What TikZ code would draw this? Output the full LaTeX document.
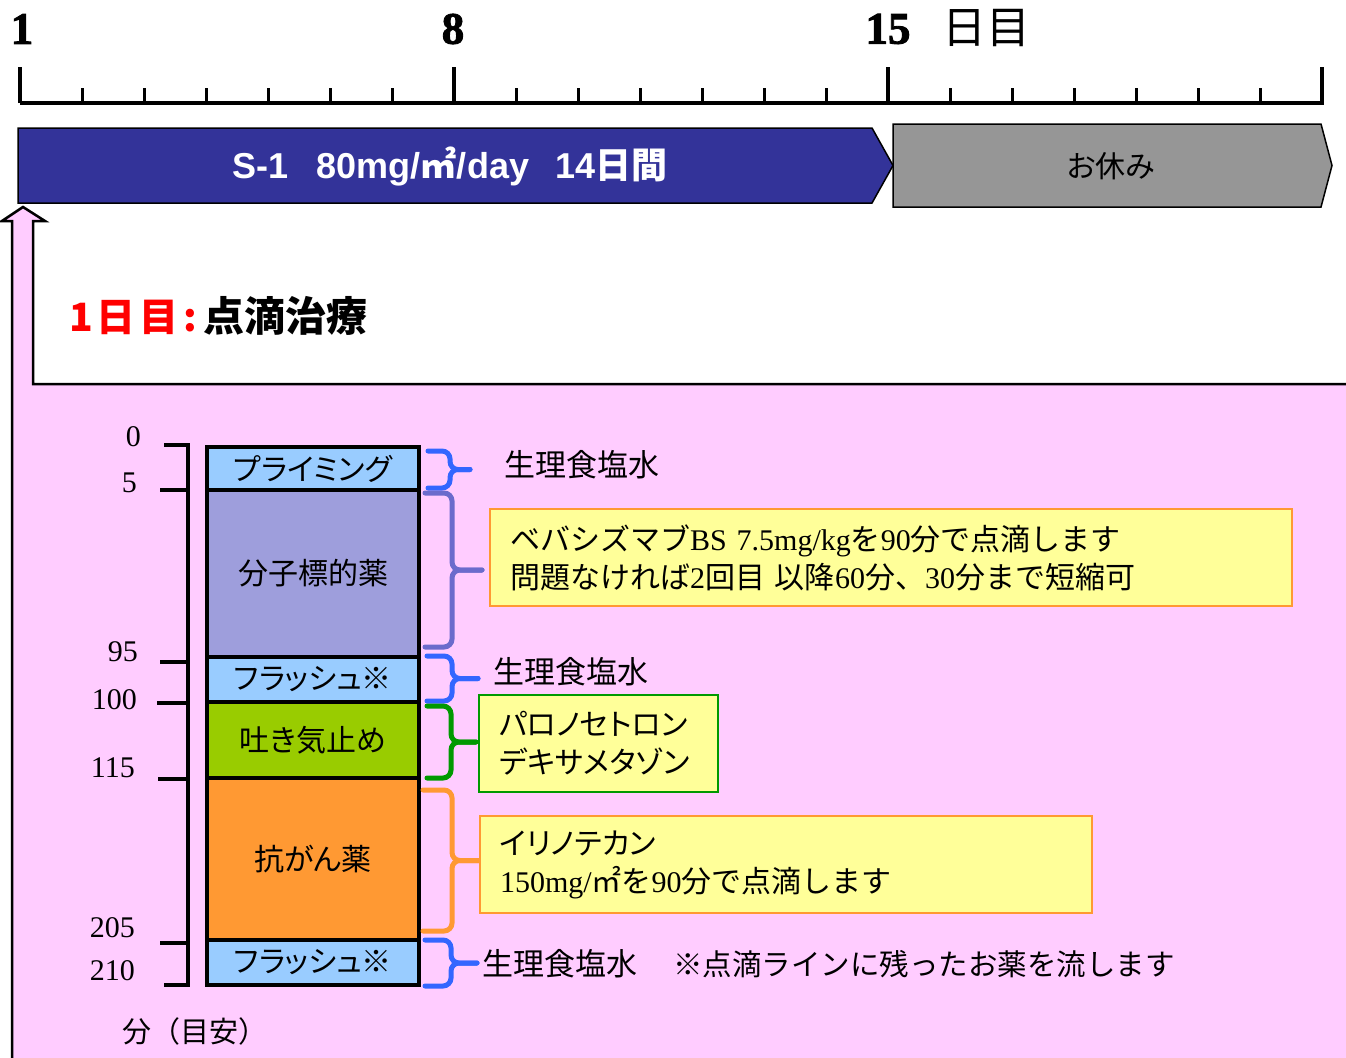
\documentclass[tikz,border=0pt]{standalone}
\usepackage{fontspec}
\setmainfont{Liberation Serif}
\newfontfamily\jp{Noto Sans CJK JP}[RawFeature=+palt]
\newfontfamily\jpf{Noto Sans CJK JP}
\newfontfamily\ars{Liberation Sans}
\newfontfamily\tms{Liberation Serif}
\newfontfamily\fattms{Liberation Serif Bold}[FakeBold=2]
\definecolor{banblue}{HTML}{333399}
\definecolor{restgray}{HTML}{969696}
\definecolor{pinkbg}{HTML}{FFCCFF}
\definecolor{ltblue}{HTML}{99CCFF}
\definecolor{lavender}{HTML}{9E9EDC}
\definecolor{grfill}{HTML}{99CC00}
\definecolor{orfill}{HTML}{FF9933}
\definecolor{yelfill}{HTML}{FFFF99}
\definecolor{brblue}{HTML}{3366FF}
\definecolor{brpurple}{HTML}{6B6BCC}
\definecolor{brgreen}{HTML}{009900}
\definecolor{brorange}{HTML}{FF9933}
\newcommand\drawbrace[6]{%
  \pgfmathsetmacro\bmid{(#2+#3)/2}%
  \draw[#1, line width=5, rounded corners=8, line cap=round] (#4,#2) -- (#5,#2) -- (#5,\bmid) -- (#6,\bmid);
  \draw[#1, line width=5, rounded corners=8, line cap=round] (#4,#3) -- (#5,#3) -- (#5,\bmid) -- (#6,\bmid);}
\begin{document}
\begin{tikzpicture}[x=1pt,y=-1pt,
  daynum/.style={inner sep=0, font=\fattms\fontsize{45}{50}\selectfont},
  blk/.style={draw=black, line width=4, minimum width=212, inner sep=0, font=\jp\fontsize{30}{36}\selectfont},
  axnum/.style={anchor=east, inner sep=0, font=\tms\fontsize{30}{34}\selectfont},
  jplabel/.style={anchor=west, inner sep=0, font=\jpf\fontsize{31}{36}\selectfont},
  infobox/.style={draw, line width=2, fill=yelfill, minimum height=97, inner ysep=0, align=left, font=\jpf\fontsize{30}{38}\selectfont},
  axline/.style={line width=4}
]
\useasboundingbox (0,0) rectangle (1346,1057);
% pink background arrow
\begin{scope}
\clip (0,0) rectangle (1346,1057);
\draw[line width=2.5, fill=pinkbg, line join=miter] (12,1075) -- (12,221) -- (2,221) -- (23,207) -- (45,221) -- (33,221) -- (33,384) -- (1365,384) -- (1365,1075) -- cycle;
\end{scope}
% timeline
\draw[axline] (20,103) -- (1324,103);
\foreach \k in {0,7,14,21} \draw[line width=3.5] (20+62*\k,103) -- (20+62*\k,67);
\foreach \k in {1,...,6,8,9,...,13,15,16,...,20} \draw[line width=3] (20+62*\k,103) -- (20+62*\k,88);
\node[daynum] (d1) at (22,29) {1};
\node[daynum] (d8) at (453,29) {8};
\node[daynum] (d15) at (888,29) {15};
\node[inner sep=0, font=\jp\fontsize{44}{48}\selectfont] (dlab) at (986,28) {日目};
% banners
\draw[fill=banblue, line width=1.5] (18,128) -- (872,128) -- (893,165.5) -- (872,203) -- (18,203) -- cycle;
\node[text=white, inner sep=0, font=\ars\bfseries\fontsize{36}{40}\selectfont] (s1) at (450,167)
  {S-1\hspace{28pt}80mg/{\jp\bfseries ㎡}/day\hspace{26pt}14{\jp\bfseries 日間}};
\draw[fill=restgray, line width=1.5] (893,124) -- (1321,124) -- (1332,165.5) -- (1321,207) -- (893,207) -- cycle;
\node[inner sep=0, font=\jp\fontsize{30}{34}\selectfont] (rest) at (1111,166) {お休み};
% title
\node[anchor=west, inner sep=0, font=\jp\bfseries\fontsize{39}{44}\selectfont] (title) at (69,316)
  {{\color{red}1\hspace{4pt}日\hspace{4pt}目\hspace{5pt}:}\hspace{6pt}{\fontsize{41}{44}\selectfont 点滴治療}};
% axis
\draw[axline] (188,444) -- (188,987);
\draw[axline] (164,445) -- (190,445);
\draw[axline] (160,490) -- (188,490);
\draw[axline] (160,662) -- (188,662);
\draw[axline] (157,703) -- (186,703);
\draw[axline] (158,779) -- (186,779);
\draw[axline] (160,943) -- (188,943);
\draw[axline] (164,985) -- (190,985);
\node[axnum] (n0) at (141,437) {0};
\node[axnum] (n5) at (137,483) {5};
\node[axnum] (n95) at (138,652) {95};
\node[axnum] (n100) at (137,700) {100};
\node[axnum] (n115) at (135,768) {115};
\node[axnum] (n205) at (135,928) {205};
\node[axnum] (n210) at (135,971) {210};
\node[anchor=west, inner sep=0, font=\jpf\fontsize{29}{34}\selectfont] (unit) at (122,1031) {分（目安）};
% blocks
\node[blk, fill=ltblue, minimum height=43] (prim) at (313,468.5) {プライミング};
\node[blk, fill=lavender, minimum height=167] (mol) at (313,573.5) {分子標的薬};
\node[blk, fill=ltblue, minimum height=45] (fl1) at (313,679.5) {フラッシュ※};
\node[blk, fill=grfill, minimum height=76] (anti) at (313,740) {吐き気止め};
\node[blk, fill=orfill, minimum height=162] (chemo) at (313,859) {抗がん薬};
\node[blk, fill=ltblue, minimum height=45] (fl2) at (313,962.5) {フラッシュ※};
% braces
\drawbrace{brblue}{451}{488}{428}{450}{470}
\drawbrace{brpurple}{493}{647}{425}{452}{482}
\drawbrace{brblue}{656}{701}{427}{452}{478}
\drawbrace{brgreen}{706}{778}{427}{451}{476}
\drawbrace{brorange}{790}{931}{423}{452}{480}
\drawbrace{brblue}{940}{986}{425}{451}{477}
% right labels
\node[jplabel] (sal1) at (504,465) {生理食塩水};
\node[jplabel] (sal2) at (493,672) {生理食塩水};
\node[jplabel] (sal3) at (482,964) {生理食塩水\hspace{36pt}{\fontsize{29.5}{36}\selectfont ※点滴ラインに残ったお薬を流します}};
\node[infobox, draw=brorange, minimum width=802, inner xsep=20, text width=762] (box1) at (891,557.5)
  {ベバシズマブ{\tms BS 7.5mg/kg}を{\tms 90}分で点滴します\\
   問題なければ{\tms 2}回目 以降{\tms 60}分、{\tms 30}分まで短縮可};
\node[infobox, draw=brgreen, minimum width=239, inner xsep=20, text width=199, font=\jp\fontsize{30}{38}\selectfont] (box2) at (598.5,743.5)
  {パロノセトロン\\デキサメタゾン};
\node[infobox, draw=brorange, minimum width=612, inner xsep=20, text width=572] (box3) at (786,864.5)
  {{\jp イリノテカン}\\{\tms 150mg/}㎡を{\tms 90}分で点滴します};
\end{tikzpicture}
\end{document}
